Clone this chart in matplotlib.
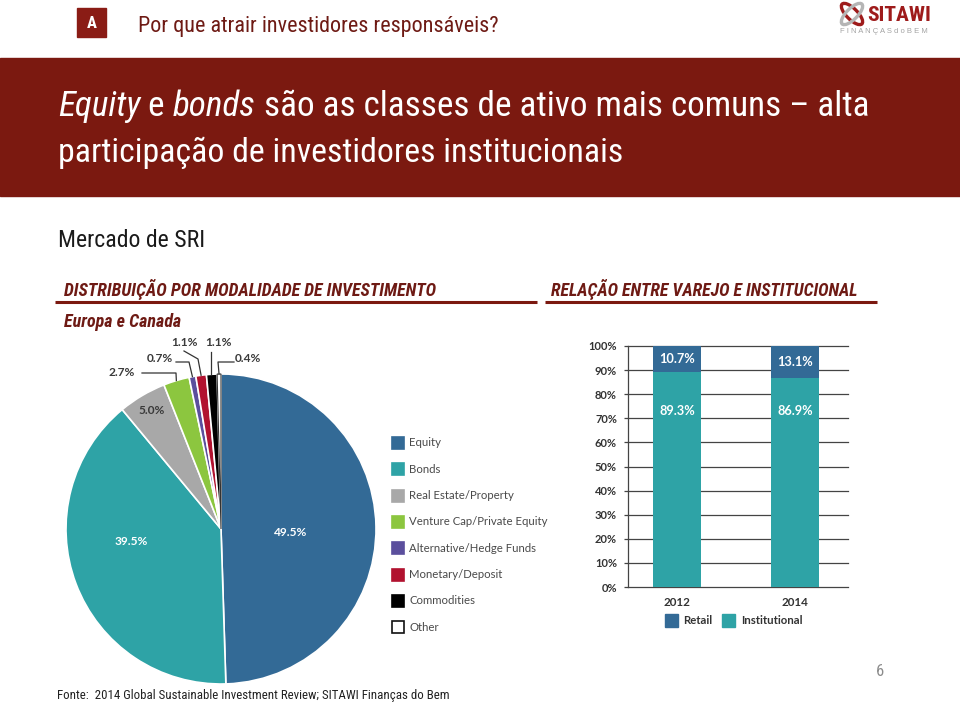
import matplotlib
matplotlib.use('Agg')
import matplotlib.pyplot as plt
from matplotlib import font_manager
from matplotlib.patches import Rectangle, Ellipse
import numpy as np

# ---------------- data ----------------
pie_categories = ['Equity', 'Bonds', 'Real Estate/Property', 'Venture Cap/Private Equity',
                  'Alternative/Hedge Funds', 'Monetary/Deposit', 'Commodities', 'Other']
pie_values = [49.5, 39.5, 5.0, 2.7, 0.7, 1.1, 1.1, 0.4]
pie_colors = ['#336a96', '#2ea3a6', '#a8a8a8', '#8cc63f', '#5b4f9d', '#b1122f', '#000000', '#ffffff']

bar_years = ['2012', '2014']
retail = [10.7, 13.1]
institutional = [89.3, 86.9]
bar_ticks = [0, 10, 20, 30, 40, 50, 60, 70, 80, 90, 100]
bar_tick_labels = [f'{v}%' for v in bar_ticks]
bar_series = ['Retail', 'Institutional']
bar_colors = ['#336a96', '#2ea3a6']

# ---------------- fonts ----------------
names = {f.name for f in font_manager.fontManager.ttflist}


def pick(cands):
    for c in cands:
        if c in names:
            return c
    return 'DejaVu Sans'


NARROW = pick(['Liberation Sans Narrow', 'Roboto Condensed', 'Archivo Narrow',
               'PT Sans Narrow', 'Liberation Sans'])
SANS = pick(['Liberation Sans', 'Arimo', 'DejaVu Sans'])
GEO = pick(['Lato', 'Liberation Sans'])
plt.rcParams['font.family'] = [SANS, 'DejaVu Sans']

DARK_RED = '#7b1910'
TITLE_RED = '#6e1a14'

fig = plt.figure(figsize=(9.6, 7.04), dpi=100)
fig.patch.set_facecolor('white')

bg = fig.add_axes([0, 0, 1, 1])
bg.set_xlim(0, 960)
bg.set_ylim(704, 0)
bg.axis('off')
bg.set_zorder(0)

renderer = fig.canvas.get_renderer()


def fit_text(x, y, s, width, size=12, **kw):
    t = bg.text(x, y, s, fontsize=size, **kw)
    w = t.get_window_extent(renderer).width
    t.set_fontsize(size * width / w)
    return t


def fit_pieces(x, y, pieces, width, size=26, **kw):
    texts = []
    for s, style in pieces:
        texts.append(bg.text(x, y, s, fontsize=size, style=style, **kw))

    def layout():
        cx = x
        for t in texts:
            t.set_x(cx)
            cx += t.get_window_extent(renderer).width
        return cx - x

    total = layout()
    for t in texts:
        t.set_fontsize(size * width / total)
    layout()
    return texts


# ---------------- header ----------------
bg.add_patch(Rectangle((77, 8), 29, 29, color='#8a1c15', zorder=2))
bg.text(91.5, 23, 'A', color='white', fontsize=12, ha='center', va='center',
        family=NARROW, weight='bold', zorder=3)
fit_text(138, 32, 'Por que atrair investidores responsáveis?', 361, size=16,
         color=TITLE_RED, family=NARROW, va='baseline')

# logo
bg.add_patch(Ellipse((852, 14), 28, 11, angle=45, fill=False, ec='#9e1b1b', lw=2.4))
bg.add_patch(Ellipse((852, 14), 28, 11, angle=-45, fill=False, ec='#b5b5b5', lw=2.4))
fit_text(867, 21, 'SITAWI', 64, size=14, color='#9e1b1b', weight='bold',
         family=NARROW, va='baseline')
fit_text(840, 33, 'F I N A N Ç A S d o B E M', 88, size=6, color='#a3a3a3',
         family=SANS, va='baseline')

# banner
bg.add_patch(Rectangle((0, 58), 960, 138, color=DARK_RED, zorder=1))
fit_pieces(58, 116, [('Equity', 'italic'), (' e ', 'normal'), ('bonds', 'italic'),
                     (' são as classes de ativo mais comuns – alta', 'normal')],
           810, size=26, color='white', family=NARROW, va='baseline', zorder=3)
fit_text(58, 162, 'participação de investidores institucionais', 564, size=26,
         color='white', family=NARROW, va='baseline', zorder=3)

# sub headers
fit_text(58, 247, 'Mercado de SRI', 148, size=14, color='#1a1a1a', family=NARROW,
         va='baseline')
fit_text(64, 296, 'DISTRIBUIÇÃO POR MODALIDADE DE INVESTIMENTO', 372, size=10,
         color=TITLE_RED, family=NARROW, weight='bold', style='italic', va='baseline')
fit_text(551, 296, 'RELAÇÃO ENTRE VAREJO E INSTITUCIONAL', 307, size=10,
         color=TITLE_RED, family=NARROW, weight='bold', style='italic', va='baseline')
bg.plot([55, 537], [302, 302], color=DARK_RED, lw=2.2, solid_capstyle='butt')
bg.plot([545, 877], [302, 302], color=DARK_RED, lw=2.2, solid_capstyle='butt')
fit_text(64, 327, 'Europa e Canada', 117, size=10, color=TITLE_RED, family=NARROW,
         weight='bold', style='italic', va='baseline')

# footer
fit_text(57, 699, 'Fonte:  2014 Global Sustainable Investment Review; SITAWI Finanças do Bem',
         392, size=9, color='#222222', family=NARROW, va='baseline')
bg.text(880, 672, '6', fontsize=12, color='#8c8c8c', family=NARROW, ha='center',
        va='center')

# ---------------- pie ----------------
cx, cy, R = 221, 529, 155
pax = fig.add_axes([(cx - R) / 960, 1 - (cy + R) / 704, 2 * R / 960, 2 * R / 704])
pax.set_zorder(2)
wedges, _ = pax.pie(pie_values, colors=pie_colors, startangle=90, counterclock=False,
                    radius=1, wedgeprops=dict(edgecolor='white', linewidth=1.2))
wedges[-1].set_edgecolor('#333333')
wedges[-1].set_linewidth(0.8)
pax.set_xlim(-1, 1)
pax.set_ylim(-1, 1)
pax.set_aspect('equal')
pax.axis('off')

starts = 90 - np.concatenate([[0], np.cumsum(pie_values)[:-1]]) * 3.6
mids = starts - np.array(pie_values) * 1.8


def lbl(v):
    return f'{v:.1f}%'


label_font = dict(family=GEO, fontsize=8.6, weight='bold')
pax.text(0.447, -0.025, lbl(pie_values[0]), color='white', ha='center', va='center',
         **label_font)
pax.text(-0.58, -0.08, lbl(pie_values[1]), color='white', ha='center', va='center',
         **label_font)
m = np.radians(mids[2])
pax.text(0.885 * np.cos(m), 0.885 * np.sin(m), lbl(pie_values[2]), color='#3a3a3a',
         ha='center', va='center', **label_font)


def px(x, y):
    return ((x - cx) / R, (cy - y) / R)


outer = {
    3: (px(122, 373), [px(142, 373), px(176, 373)]),
    4: (px(160, 359), [px(176, 362), px(189, 362)]),
    5: (px(184, 343), [px(184, 351), px(198, 359)]),
    6: (px(218, 343), [px(211, 352)]),
    7: (px(248, 359), [px(234, 362), px(218, 362)]),
}
for i, (tpos, elbows) in outer.items():
    m = np.radians(mids[i])
    edge = (1.0 * np.cos(m), 1.0 * np.sin(m))
    pts = elbows + [edge]
    xs = [p[0] for p in pts]
    ys = [p[1] for p in pts]
    if i == 6:
        xs[-1] = xs[0]
    pax.plot(xs, ys, color='#333333', lw=0.9, clip_on=False)
    pax.text(tpos[0], tpos[1], lbl(pie_values[i]), color='#3a3a3a', ha='center',
             va='center', clip_on=False, **label_font)

# pie legend
clip_rect = Rectangle((380, 420), 166, 230, transform=bg.transData)
for i, (name, col) in enumerate(zip(pie_categories, pie_colors)):
    y = 443 + i * 26.3
    ec = '#111111' if col == '#ffffff' else col
    bg.add_patch(Rectangle((392, y - 6), 12, 12, facecolor=col, edgecolor=ec, lw=1.2,
                           zorder=3))
    t = bg.text(409, y, name, fontsize=8.2, color='#4a4a4a', family=GEO, va='center',
                zorder=3)
    t.set_clip_path(clip_rect)

# ---------------- stacked bars ----------------
bax = fig.add_axes([628 / 960, 1 - 587 / 704, 220 / 960, 241 / 704])
bax.set_zorder(2)
xpos = np.arange(len(bar_years))
bw = 0.407
bax.bar(xpos, institutional, width=bw, color=bar_colors[1], zorder=3)
bax.bar(xpos, retail, width=bw, bottom=institutional, color=bar_colors[0], zorder=3)
bax.set_xlim(-0.415, 1.449)
bax.set_ylim(0, 100)
bax.set_yticks(bar_ticks)
bax.set_yticklabels(bar_tick_labels, fontsize=8, weight='bold', color='#333333',
                    family=GEO)
bax.set_xticks(xpos)
bax.set_xticklabels(bar_years, fontsize=8.4, weight='bold', color='#333333',
                    family=GEO)
bax.tick_params(axis='y', length=3, width=0.9, color='#444444', pad=5)
bax.tick_params(axis='x', length=0, pad=7)
bax.yaxis.grid(True, color='#444444', lw=0.9)
for gl in bax.get_ygridlines():
    gl.set_clip_on(False)
bax.set_axisbelow(True)
for s in ['top', 'right', 'bottom']:
    bax.spines[s].set_visible(False)
bax.spines['left'].set_color('#444444')
bax.spines['left'].set_linewidth(0.9)
bax.patch.set_alpha(0)

for i in range(len(bar_years)):
    bax.text(xpos[i], institutional[i] + retail[i] / 2, lbl(retail[i]), color='white',
             ha='center', va='center', fontsize=9.2, family=GEO, weight='bold', zorder=4)
    bax.text(xpos[i], 73, lbl(institutional[i]), color='white', ha='center',
             va='center', fontsize=9.2, family=GEO, weight='bold', zorder=4)

# bar legend
bg.add_patch(Rectangle((665, 614), 13, 13, color=bar_colors[0], zorder=3))
bg.text(683, 620.5, bar_series[0], fontsize=8.2, color='#333333', family=GEO,
        weight='bold', va='center', zorder=3)
bg.add_patch(Rectangle((722, 614), 13, 13, color=bar_colors[1], zorder=3))
bg.text(741, 620.5, bar_series[1], fontsize=8.2, color='#333333', family=GEO,
        weight='bold', va='center', zorder=3)

fig.savefig('out.png', dpi=100)
